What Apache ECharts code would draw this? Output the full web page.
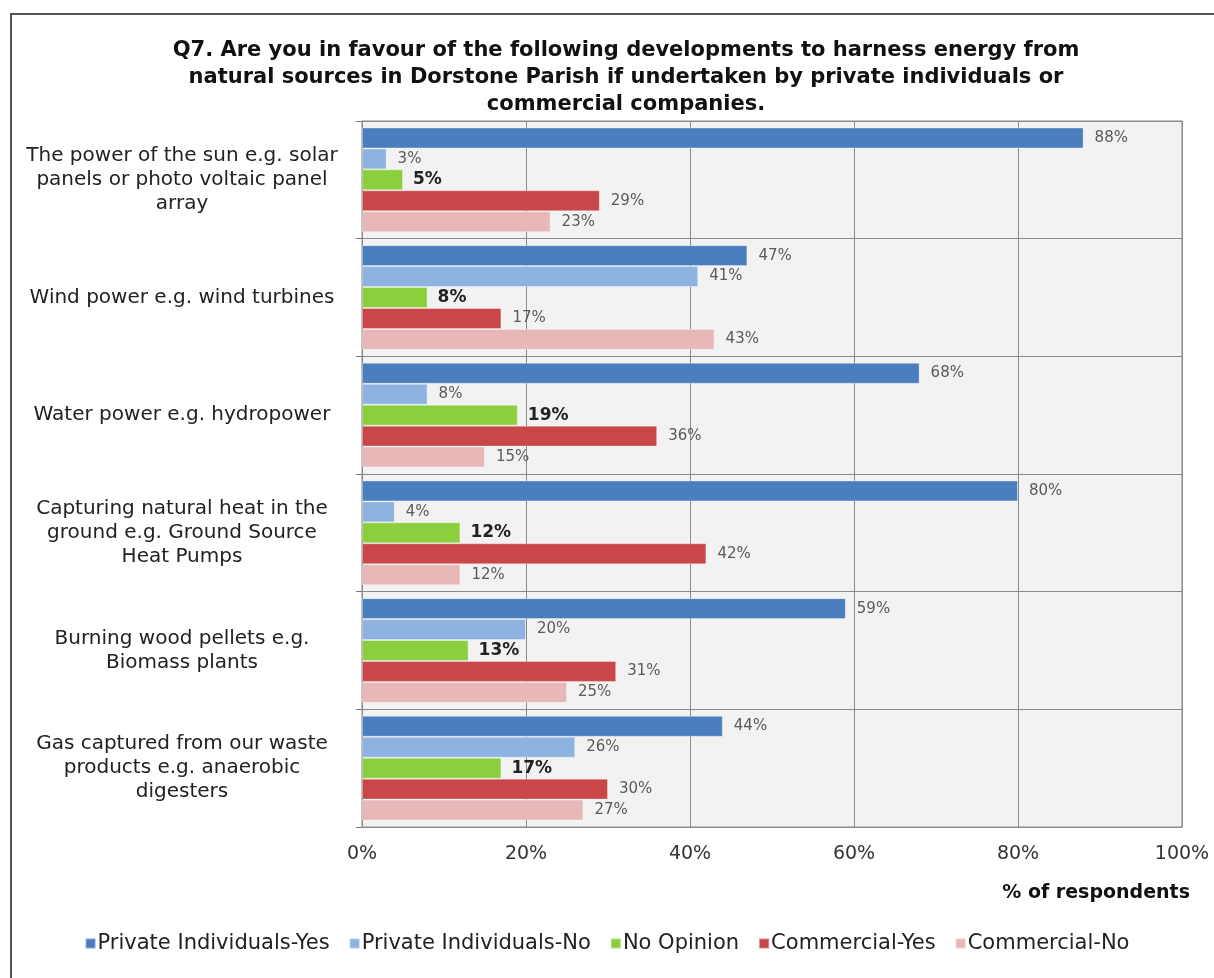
<!DOCTYPE html>
<html>
<head>
<meta charset="utf-8">
<script src="https://cdn.jsdelivr.net/npm/echarts@6/dist/echarts.min.js"></script>
<style>
html,body{margin:0;padding:0;background:#fff;}
#chart{width:1214px;height:978px;}
</style>
</head>
<body>
<div id="chart"></div>
<script>
const categories = [
  "The power of the sun e.g. solar\npanels or photo voltaic panel\narray",
  "Wind power e.g. wind turbines",
  "Water power e.g. hydropower",
  "Capturing natural heat in the\nground e.g. Ground Source\nHeat Pumps",
  "Burning wood pellets e.g.\nBiomass plants",
  "Gas captured from our waste\nproducts e.g. anaerobic\ndigesters"
];
const seriesNames = ["Private Individuals-Yes","Private Individuals-No","No Opinion","Commercial-Yes","Commercial-No"];
const privateYes = [88, 47, 68, 80, 59, 44];
const privateNo = [3, 41, 8, 4, 20, 26];
const noOpinion = [5, 8, 19, 12, 13, 17];
const commercialYes = [29, 17, 36, 42, 31, 30];
const commercialNo = [23, 43, 15, 12, 25, 27];
const xTicks = [0, 20, 40, 60, 80, 100];

const colors = ['#4a7ebe', '#8fb3e0', '#8ccf3e', '#c94748', '#e8b7b8'];
const seriesData = [privateYes, privateNo, noOpinion, commercialYes, commercialNo];

const chart = echarts.init(document.getElementById('chart'), null, {renderer: 'canvas'});
const FONT = '"DejaVu Sans", "Liberation Sans", Arial, sans-serif';

const series = seriesData.map((d, i) => ({
  name: seriesNames[i],
  type: 'bar',
  data: d,
  barGap: '0%',
  barCategoryGap: '11%',
  itemStyle: {color: colors[i], borderColor: 'rgba(255,255,255,0.35)', borderWidth: 1},
  label: {
    show: true,
    position: 'right',
    distance: i === 2 ? 10 : 11,
    formatter: '{c}%',
    fontFamily: FONT,
    fontSize: i === 2 ? 17 : 15,
    fontWeight: i === 2 ? 'bold' : 'normal',
    color: i === 2 ? '#222' : '#5a5a5a'
  },
  emphasis: {disabled: true},
  animation: false
}));

chart.setOption({
  backgroundColor: '#fff',
  animation: false,
  title: {
    text: 'Q7. Are you in favour of the following developments to harness energy from\nnatural sources in Dorstone Parish if undertaken by private individuals or\ncommercial companies.',
    left: 621,
    top: 32,
    textAlign: 'center',
    textStyle: {fontFamily: FONT, fontSize: 21, fontWeight: 'bold', color: '#111', lineHeight: 27}
  },
  legend: {
    data: seriesNames,
    left: 'center',
    top: 928,
    icon: 'rect',
    itemWidth: 10,
    itemHeight: 10,
    itemGap: 19,
    textStyle: {fontFamily: FONT, fontSize: 21, color: '#222', padding: [0,0,0,-3]}
  },
  grid: {
    left: 362, right: 32, top: 121, bottom: 151,
    show: true, backgroundColor: '#f2f2f2', borderColor: '#8a8a8a', borderWidth: 1,
    containLabel: false
  },
  xAxis: {
    type: 'value',
    min: 0, max: 100, interval: 20,
    name: '% of respondents',
    nameLocation: 'end',
    nameGap: 0,
    nameTextStyle: {fontFamily: FONT, fontSize: 19, fontWeight: 'bold', color: '#111', align: 'right', verticalAlign: 'top', padding: [57, -8, 0, 0]},
    axisLine: {show: true, lineStyle: {color: '#8a8a8a', width: 1}},
    axisTick: {show: false},
    splitLine: {show: true, lineStyle: {color: '#8a8a8a', width: 1}},
    axisLabel: {formatter: '{value}%', fontFamily: FONT, fontSize: 19, color: '#333', margin: 18,
      customValues: xTicks}
  },
  yAxis: {
    type: 'category',
    data: categories,
    inverse: true,
    axisLine: {show: true, lineStyle: {color: '#8a8a8a', width: 1}},
    axisTick: {show: true, length: 6, lineStyle: {color: '#777'}},
    splitLine: {show: true, lineStyle: {color: '#8a8a8a', width: 1}},
    axisLabel: {fontFamily: FONT, fontSize: 20, color: '#222', align: 'center', margin: 180, lineHeight: 24}
  },
  graphic: [{
    type: 'rect',
    shape: {x: 11, y: 14, width: 1220, height: 990},
    style: {fill: 'none', stroke: '#555', lineWidth: 2},
    silent: true
  }],
  series: series
});
</script>
</body>
</html>
